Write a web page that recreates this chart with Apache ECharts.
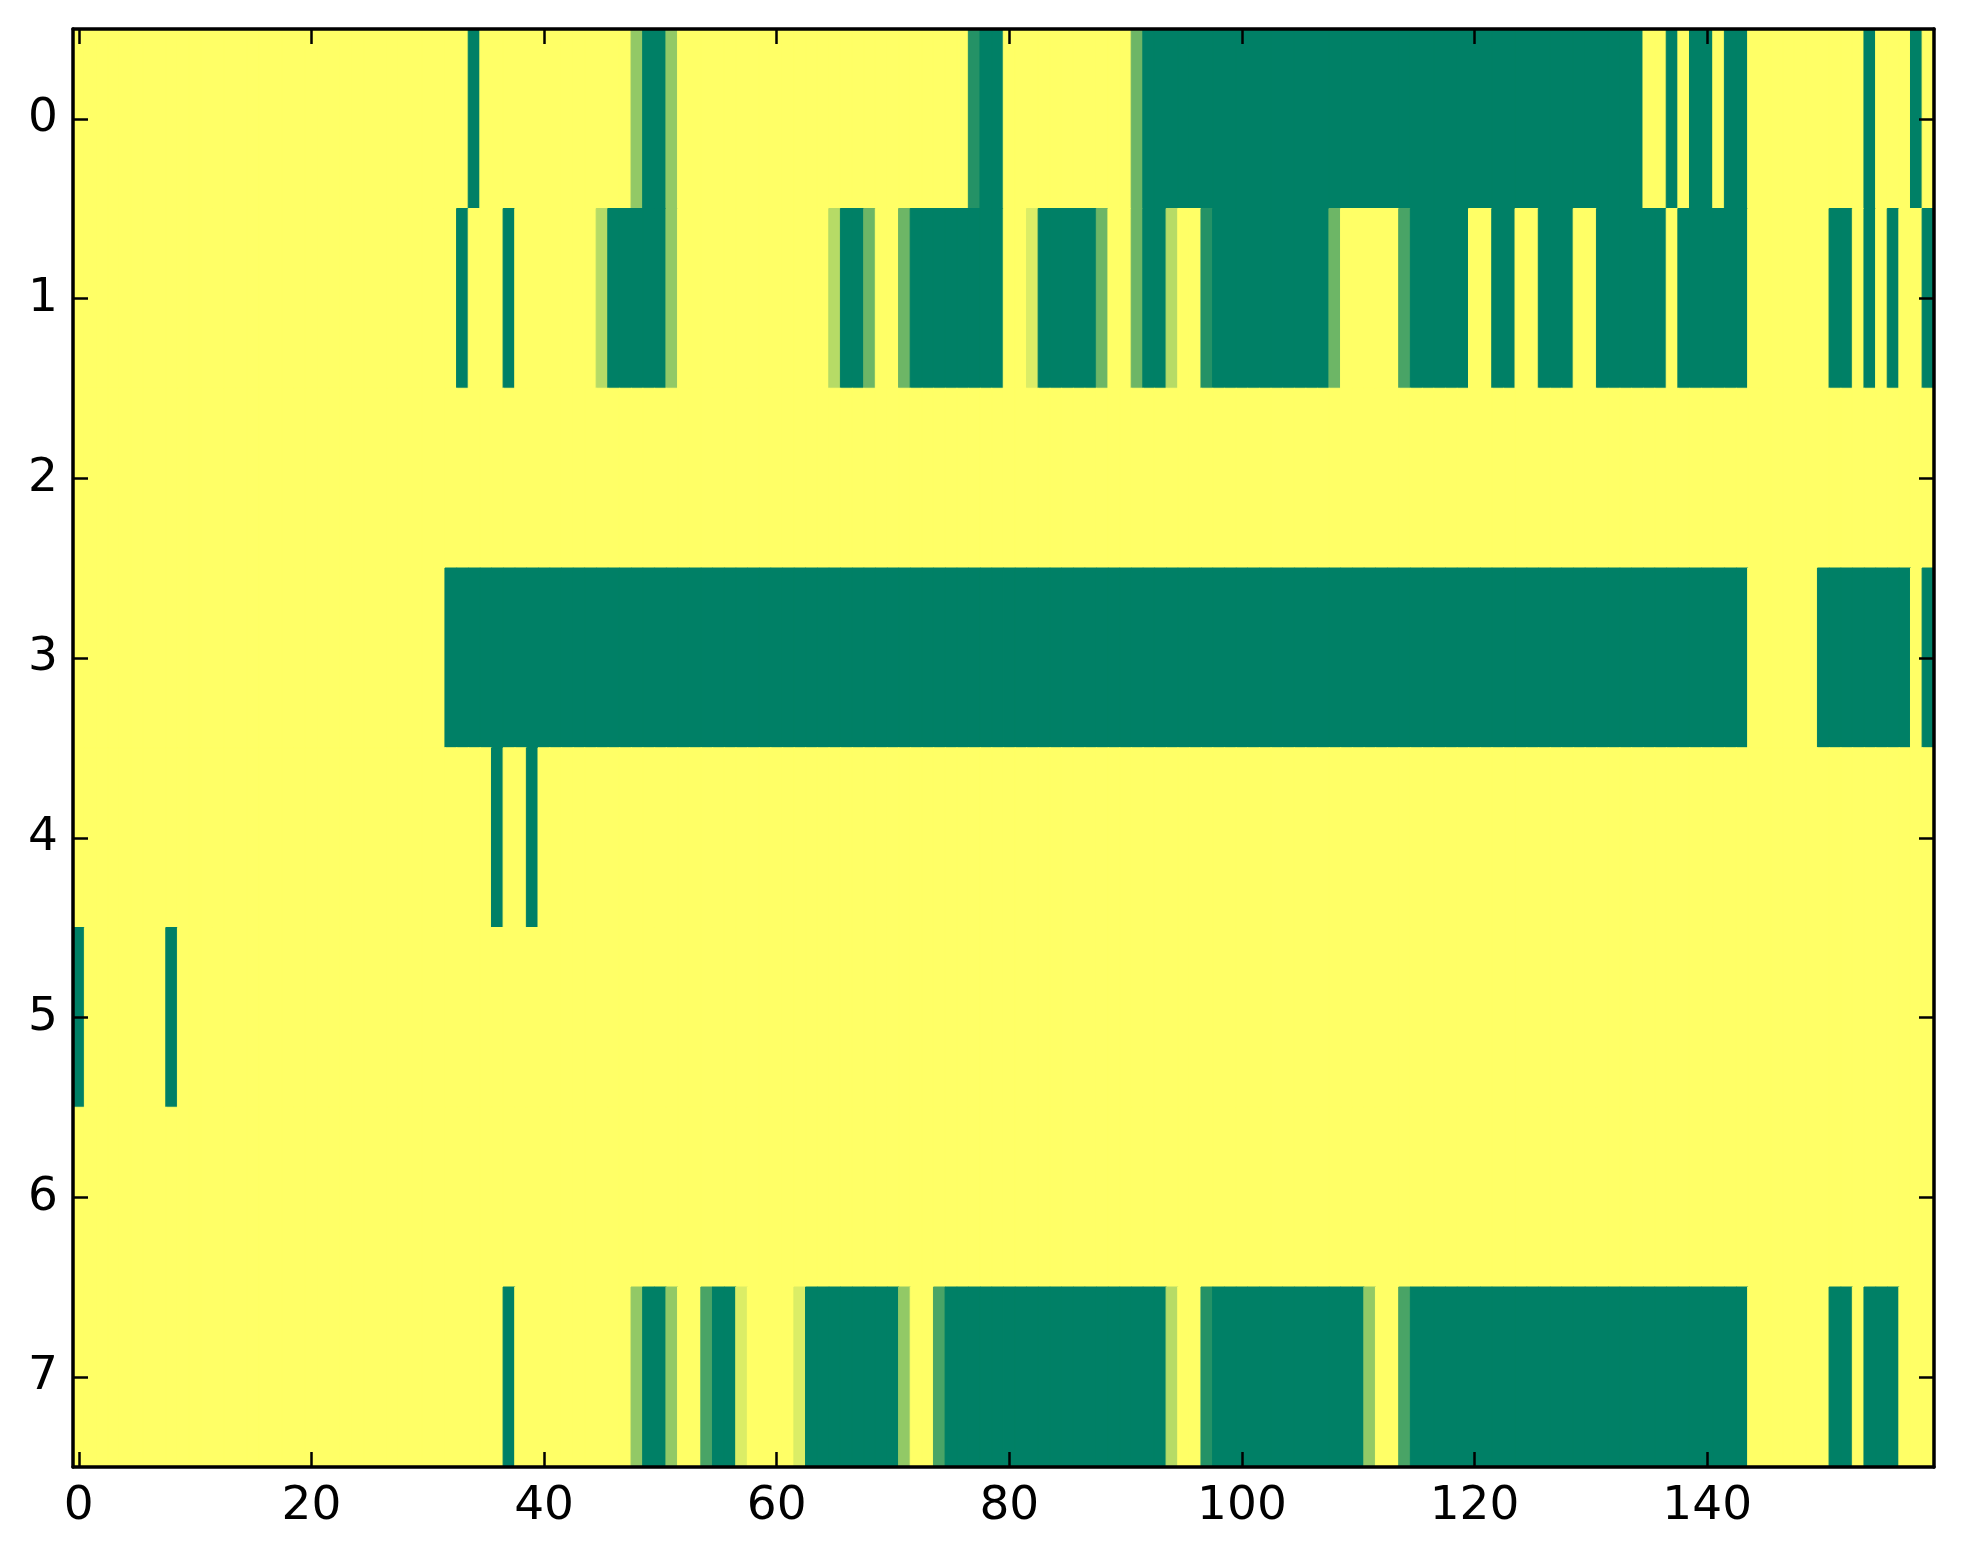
<!DOCTYPE html>
<html>
<head>
<meta charset="utf-8">
<script src="https://cdn.jsdelivr.net/npm/echarts@6/dist/echarts.min.js"></script>
<style>
  html, body { margin: 0; padding: 0; background: #ffffff; }
  #chart { width: 1963px; height: 1564px; }
</style>
</head>
<body>
<div id="chart"></div>
<script>
// Column count and row labels
const columnCount = 160;
const rowLabels = ['0', '1', '2', '3', '4', '5', '6', '7'];
const xTickLabels = ['0', '20', '40', '60', '80', '100', '120', '140'];

// Colormap end points (summer_r): 0 -> yellow, 7 -> green
const lowColor = [255, 255, 102];
const highColor = [0, 128, 102];
const maxLevel = 7;

// Cell values, one digit per column, in sevenths (0 = yellow, 7 = full green)
const row0 = "0000000000 0000000000 0000000000 0000700000 0000000037 7300000000 0000000000 0000000677 0000000000 0477777777 7777777777 7777777777 7777777777 7777700707 7077000000 0000700070";
const row1 = "0000000000 0000000000 0000000000 0007000700 0000027777 7300000000 0000027740 0477777777 0017777740 0477200677 7777777740 0000577777 0077007770 0777777077 7777000000 0770707007";
const row2 = "0000000000 0000000000 0000000000 0000000000 0000000000 0000000000 0000000000 0000000000 0000000000 0000000000 0000000000 0000000000 0000000000 0000000000 0000000000 0000000000";
const row3 = "0000000000 0000000000 0000000000 0077777777 7777777777 7777777777 7777777777 7777777777 7777777777 7777777777 7777777777 7777777777 7777777777 7777777777 7777000000 7777777707";
const row4 = "0000000000 0000000000 0000000000 0000007007 0000000000 0000000000 0000000000 0000000000 0000000000 0000000000 0000000000 0000000000 0000000000 0000000000 0000000000 0000000000";
const row5 = "7000000070 0000000000 0000000000 0000000000 0000000000 0000000000 0000000000 0000000000 0000000000 0000000000 0000000000 0000000000 0000000000 0000000000 0000000000 0000000000";
const row6 = "0000000000 0000000000 0000000000 0000000000 0000000000 0000000000 0000000000 0000000000 0000000000 0000000000 0000000000 0000000000 0000000000 0000000000 0000000000 0000000000";
const row7 = "0000000000 0000000000 0000000000 0000000700 0000000037 7300577100 0017777777 7300577777 7777777777 7777200677 7777777777 7300577777 7777777777 7777777777 7777000000 0770777000";

const rows = [row0, row1, row2, row3, row4, row5, row6, row7];

const xCategories = [];
for (let i = 0; i < columnCount; i++) xCategories.push(String(i));

function levelColor(v) {
  const t = v / maxLevel;
  const c = lowColor.map((a, i) => Math.round(a + (highColor[i] - a) * t));
  return 'rgb(' + c.join(',') + ')';
}

const cells = [];
rows.forEach((r, y) => {
  const digits = r.replace(/\s+/g, '');
  for (let x = 0; x < digits.length; x++) {
    const v = Number(digits[x]);
    const col = levelColor(v);
    cells.push({ value: [x, y, v], itemStyle: { color: col, borderColor: col, borderWidth: 1 } });
  }
});

const chart = echarts.init(document.getElementById('chart'), null, { renderer: 'canvas' });

const font = { fontFamily: 'DejaVu Sans', fontSize: 47, color: '#000000' };
const lineStyle = { color: '#000000', width: 3.5 };
const tickStyle = { color: '#000000', width: 2.5 };

chart.setOption({
  backgroundColor: '#ffffff',
  animation: false,
  grid: { left: 73, top: 29, width: 1861, height: 1438, containLabel: false },
  xAxis: [
    {
      type: 'category', data: xCategories, position: 'bottom', z: 10,
      axisLine: { show: true, lineStyle: lineStyle },
      axisTick: { show: true, inside: true, length: 15, interval: 19, alignWithLabel: true, lineStyle: tickStyle },
      axisLabel: {
        show: true, interval: 19, margin: 16, ...font,
        formatter: v => (xTickLabels.indexOf(v) >= 0 ? v : '')
      },
      splitLine: { show: false }
    },
    {
      type: 'category', data: xCategories, position: 'top', z: 10,
      axisLine: { show: true, lineStyle: lineStyle },
      axisTick: { show: true, inside: true, length: 15, interval: 19, alignWithLabel: true, lineStyle: tickStyle },
      axisLabel: { show: false },
      splitLine: { show: false }
    }
  ],
  yAxis: [
    {
      type: 'category', data: rowLabels, inverse: true, position: 'left', z: 10,
      axisLine: { show: true, lineStyle: lineStyle },
      axisTick: { show: true, inside: true, length: 15, interval: 0, alignWithLabel: true, lineStyle: tickStyle },
      axisLabel: { show: true, interval: 0, margin: 15, ...font },
      splitLine: { show: false }
    },
    {
      type: 'category', data: rowLabels, inverse: true, position: 'right', z: 10,
      axisLine: { show: true, lineStyle: lineStyle },
      axisTick: { show: true, inside: true, length: 15, interval: 0, alignWithLabel: true, lineStyle: tickStyle },
      axisLabel: { show: false },
      splitLine: { show: false }
    }
  ],
  series: [{
    type: 'heatmap',
    xAxisIndex: 0, yAxisIndex: 0,
    data: cells,
    z: 2,
    emphasis: { disabled: true },
    progressive: 0
  }]
});
</script>
</body>
</html>
